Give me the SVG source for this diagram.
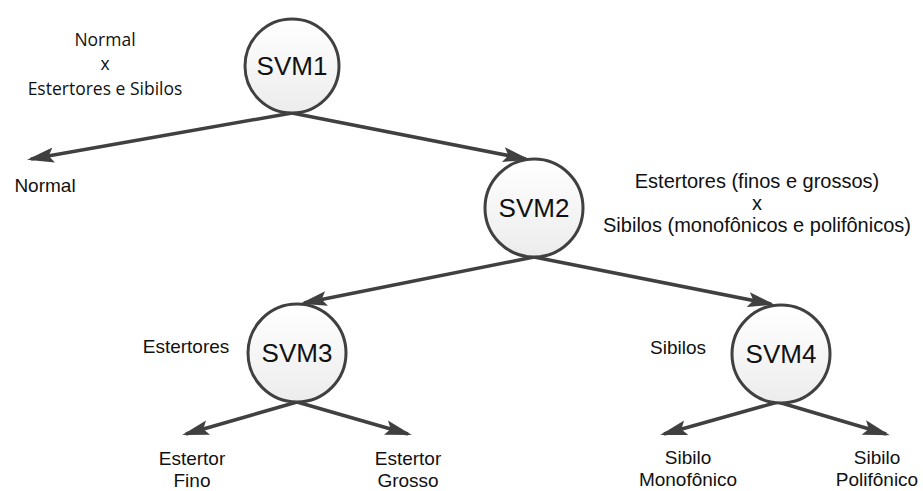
<svg xmlns="http://www.w3.org/2000/svg" width="923" height="491" viewBox="0 0 923 491">
  <defs>
    <linearGradient id="nodeFill" x1="0" y1="0" x2="0" y2="1">
      <stop offset="0" stop-color="#ffffff"/>
      <stop offset="1" stop-color="#ececec"/>
    </linearGradient>
    <marker id="arrow" markerUnits="userSpaceOnUse" markerWidth="28" markerHeight="18" viewBox="0 0 28 18" refX="23" refY="9" orient="auto">
      <path d="M0,1.5 L27,9 L0,16.5 L5,9 z" fill="#404040"/>
    </marker>
    <style>
      .node circle { fill: url(#nodeFill); stroke: #404040; stroke-width: 3; }
      .node text { font-family: "Liberation Sans", Arial, sans-serif; font-size: 26px; fill: #111; text-anchor: middle; }
      .edge { stroke: #404040; stroke-width: 3.5; fill: none; marker-end: url(#arrow); }
      .lbl { font-family: "Liberation Sans", Arial, sans-serif; font-size: 19px; fill: #111; text-anchor: middle; }
      .lbl.big { font-size: 20px; }
      .lbl2 { font-family: "Open Sans", "Liberation Sans", sans-serif; font-size: 17.5px; fill: #111; text-anchor: middle; }
    </style>
  </defs>

  <rect width="923" height="491" fill="#ffffff"/>

  <g id="connectors">
    <line class="edge" x1="292" y1="113" x2="31" y2="159"/>
    <line class="edge" x1="292" y1="113" x2="526" y2="159"/>
    <line class="edge" x1="534" y1="257" x2="304" y2="303"/>
    <line class="edge" x1="534" y1="257" x2="771" y2="304"/>
    <line class="edge" x1="297" y1="402" x2="186" y2="434"/>
    <line class="edge" x1="297" y1="402" x2="408" y2="434"/>
    <line class="edge" x1="778" y1="402" x2="664" y2="434"/>
    <line class="edge" x1="778" y1="402" x2="886" y2="434"/>
  </g>

  <g id="svm1" class="node">
    <circle cx="292" cy="66" r="47"/>
    <text x="292" y="75">SVM1</text>
  </g>
  <g id="svm2" class="node">
    <circle cx="534" cy="208" r="49"/>
    <text x="534" y="217">SVM2</text>
  </g>
  <g id="svm3" class="node">
    <circle cx="297" cy="353" r="49"/>
    <text x="297" y="362">SVM3</text>
  </g>
  <g id="svm4" class="node">
    <circle cx="781" cy="354" r="49"/>
    <text x="781" y="363">SVM4</text>
  </g>

  <g id="labels">
    <text class="lbl2" x="105" y="46">Normal</text>
    <text class="lbl2" x="105" y="70">x</text>
    <text class="lbl2" x="105" y="95">Estertores e Sibilos</text>

    <text class="lbl" x="45" y="192">Normal</text>

    <text class="lbl big" x="757" y="188">Estertores (finos e grossos)</text>
    <text class="lbl big" x="757" y="210">x</text>
    <text class="lbl big" x="757" y="232">Sibilos (monofônicos e polifônicos)</text>

    <text class="lbl" x="186" y="353">Estertores</text>
    <text class="lbl" x="678" y="354">Sibilos</text>

    <text class="lbl" x="192" y="465">Estertor</text>
    <text class="lbl" x="192" y="487">Fino</text>
    <text class="lbl" x="408" y="465">Estertor</text>
    <text class="lbl" x="408" y="487">Grosso</text>

    <text class="lbl" x="688" y="464">Sibilo</text>
    <text class="lbl" x="688" y="486">Monofônico</text>
    <text class="lbl" x="877" y="464">Sibilo</text>
    <text class="lbl" x="877" y="486">Polifônico</text>
  </g>
</svg>
